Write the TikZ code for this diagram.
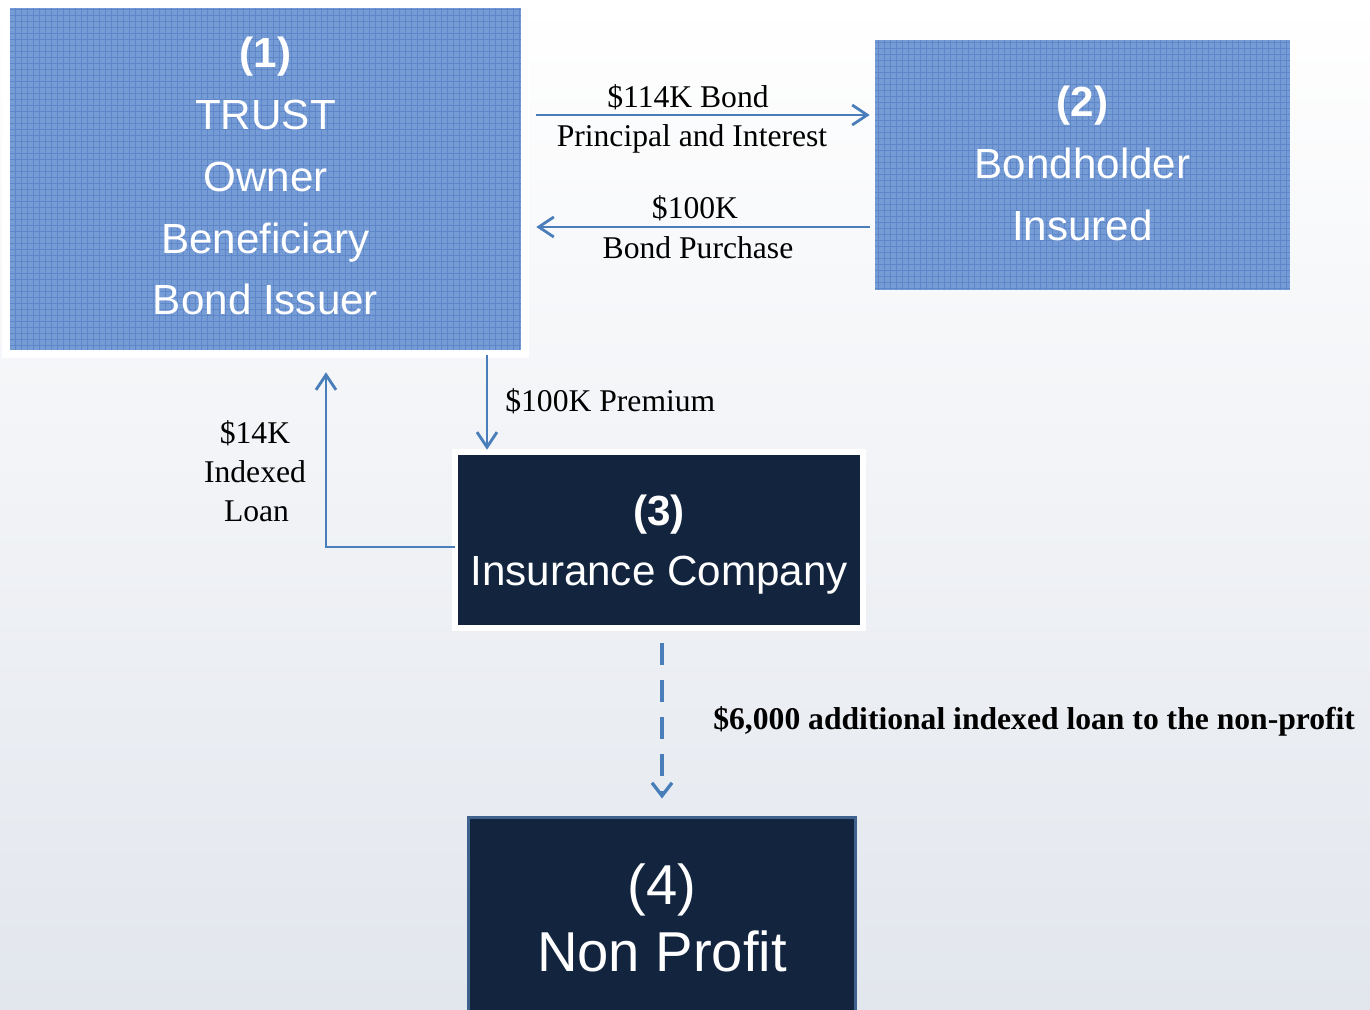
\documentclass[tikz,border=0pt]{standalone}
\usepackage{fontspec}
\setmainfont{Liberation Serif}
\newfontfamily\arial{Liberation Sans}
\usetikzlibrary{positioning, arrows.meta, calc}

\definecolor{boxblue}{RGB}{118,156,213}
\definecolor{gridblue}{RGB}{94,134,200}
\definecolor{navy}{RGB}{19,36,63}
\definecolor{flowblue}{RGB}{74,126,187}
\definecolor{npedge}{RGB}{62,97,142}
\definecolor{haze}{RGB}{226,230,237}

\begin{document}
\begin{tikzpicture}[x=0.02cm, y=-0.02cm,
  party/.style={fill=boxblue, text=white, align=center, inner sep=0pt,
    font=\arial\fontsize{24}{35.2}\selectfont,
    path picture={\draw[gridblue, line width=0.25pt, step=0.12cm]
      (path picture bounding box.south west) grid (path picture bounding box.north east);}},
  dark/.style={fill=navy, text=white, align=center, inner sep=0pt},
  flow/.style={flowblue, line width=1.6pt,
    -{Straight Barb[length=0.3cm, width=0.4cm, line width=1.6pt]}},
  lbl/.style={font=\fontsize{18}{22.1}\selectfont, inner sep=0pt}]

\useasboundingbox (0,0) rectangle (1370,1010);
\fill[top color=white, bottom color=haze] (0,0) rectangle (1370,1010);

% the four parties
\node[party, minimum width=10.22cm, minimum height=6.84cm,
  preaction={draw=white, line width=0.34cm}] (trust) at (265.5,179)
  {\textbf{(1)}\\TRUST\\Owner\\Beneficiary\\Bond Issuer\rule[-0.12cm]{0pt}{0pt}};
\node[party, minimum width=8.3cm, minimum height=5cm] (bond) at (1082.5,165)
  {\textbf{(2)}\\Bondholder\\Insured\rule[-0.08cm]{0pt}{0pt}};
\node[dark, minimum width=8.04cm, minimum height=3.4cm,
  preaction={draw=white, line width=0.24cm},
  font=\arial\fontsize{24}{34}\selectfont] (ins) at (659,540)
  {\rule{0pt}{0.8cm}\textbf{(3)}\\Insurance Company};
\node[dark, draw=npedge, line width=0.06cm, minimum width=7.76cm, minimum height=4.04cm,
  font=\arial\fontsize{32}{38}\selectfont] (np) at (662,918)
  {(4)\\Non Profit};

% money flows
\draw[flow, shorten <=0.3cm, shorten >=0.1cm] (trust.east |- 0,115) -- (bond.west |- 0,115);
\draw[flow, shorten <=0.1cm, shorten >=0.3cm] (bond.west |- 0,227) -- (trust.east |- 0,227);
\draw[flow, shorten <=0.1cm, shorten >=0.1cm] (trust.south -| 487,0) -- (ins.north -| 487,0);
\draw[flow, shorten <=0.06cm, shorten >=0.44cm] ([yshift=-0.14cm]ins.west) -| (trust.south -| 326,0);
\draw[flowblue, line width=2.3pt, dash pattern=on 0.44cm off 0.3cm,
  shorten <=0.36cm, shorten >=0.34cm,
  -{Straight Barb[length=0.26cm, width=0.4cm, line width=1.9pt]}]
  (ins.south -| np.north) -- (np.north);

% flow labels
\node[lbl] (l1) at (688,97) {\$114K Bond};
\node[lbl] (l2) at (692,139) {Principal and Interest};
\node[lbl] (l3) at (695,208) {\$100K};
\node[lbl] (l4) at (698,248) {Bond Purchase};
\node[lbl, anchor=west] (l5) at (505,401) {\$100K Premium};
\node[lbl, align=center] (l6) at (255,471) {\$14K\\Indexed\\\hspace{0.06cm}Loan};
\node[lbl, anchor=west, font=\bfseries\fontsize{18}{22}\selectfont] (l7) at (713,721)
  {\$6,000 additional indexed loan to the non-profit};
\end{tikzpicture}
\end{document}
